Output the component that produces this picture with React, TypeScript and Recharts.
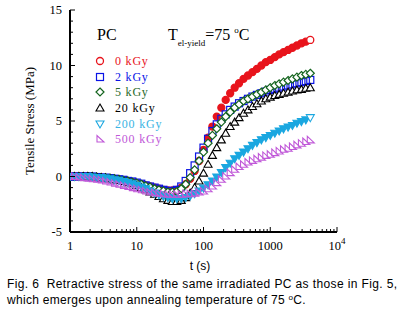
import { ComposedChart, Scatter, XAxis, YAxis } from "recharts"

// annealing time (s), log spaced as in the measurement
const times = [
  1, 1.17, 1.36, 1.58, 1.85, 2.15, 2.51, 2.93, 3.41, 3.98, 4.64, 5.41, 6.31, 7.36, 8.58,
  10, 11.7, 13.6, 15.8, 18.5, 21.5, 25.1, 29.3, 34.1, 39.8, 46.4, 54.1, 63.1, 73.6, 85.8,
  100, 117, 136, 158, 185, 215, 251, 293, 341, 398, 464, 541, 631, 736, 858,
  1000, 1170, 1360, 1580, 1850, 2150, 2510, 2930, 3410, 3980,
]

const stress0 = [
  0, 0, 0, 0, 0, -0.05, -0.1, -0.1, -0.15, -0.2, -0.25, -0.3, -0.35, -0.45, -0.5,
  -0.6, -0.7, -0.8, -0.9, -1.0, -1.1, -1.2, -1.25, -1.25, -1.2, -1.0, -0.7, -0.2, 0.5, 1.4,
  2.4, 3.5, 4.5, 5.4, 6.2, 6.9, 7.5, 8.0, 8.4, 8.8, 9.1, 9.4, 9.7, 10.0, 10.3,
  10.5, 10.75, 11.0, 11.2, 11.4, 11.6, 11.8, 12.0, 12.15, 12.3,
]
const stress2 = [
  0, 0, 0, 0, 0, 0, -0.05, -0.1, -0.1, -0.15, -0.2, -0.25, -0.3, -0.4, -0.45,
  -0.55, -0.65, -0.8, -0.9, -1.0, -1.1, -1.2, -1.3, -1.3, -1.2, -0.9, -0.4, 0.3, 1.0, 1.8,
  2.6, 3.4, 4.1, 4.7, 5.2, 5.6, 6.0, 6.3, 6.6, 6.8, 7.0, 7.2, 7.35, 7.5, 7.65,
  7.8, 7.9, 8.0, 8.1, 8.2, 8.3, 8.4, 8.5, 8.6, 8.7,
]
const stress5 = [
  0, 0, 0, 0, 0, 0, -0.05, -0.1, -0.1, -0.15, -0.2, -0.25, -0.35, -0.4, -0.5,
  -0.6, -0.7, -0.85, -0.95, -1.1, -1.2, -1.3, -1.4, -1.4, -1.35, -1.1, -0.7, -0.1, 0.6, 1.4,
  2.2, 3.0, 3.7, 4.3, 4.9, 5.4, 5.8, 6.2, 6.5, 6.8, 7.0, 7.2, 7.4, 7.6, 7.8,
  8.0, 8.2, 8.35, 8.5, 8.65, 8.8, 8.95, 9.1, 9.2, 9.3,
]
const stress20 = [
  0, 0, 0, 0, 0, 0, -0.05, -0.1, -0.15, -0.2, -0.3, -0.35, -0.45, -0.55, -0.65,
  -0.8, -1.0, -1.2, -1.4, -1.6, -1.8, -2.0, -2.15, -2.25, -2.25, -2.15, -1.9, -1.5, -1.0, -0.4,
  0.3, 1.1, 1.9, 2.6, 3.3, 3.9, 4.5, 4.9, 5.3, 5.7, 6.0, 6.3, 6.55, 6.8, 7.0,
  7.15, 7.3, 7.4, 7.5, 7.6, 7.7, 7.8, 7.85, 7.95, 8.0,
]
const stress200 = [
  0, 0, 0, 0, 0, -0.05, -0.1, -0.1, -0.15, -0.2, -0.3, -0.35, -0.45, -0.55, -0.65,
  -0.8, -0.95, -1.1, -1.3, -1.5, -1.65, -1.8, -1.9, -2.0, -2.0, -2.0, -1.9, -1.75, -1.55, -1.3,
  -1.05, -0.75, -0.4, -0.05, 0.35, 0.8, 1.2, 1.6, 1.9, 2.2, 2.5, 2.8, 3.05, 3.3, 3.5,
  3.7, 3.9, 4.1, 4.3, 4.45, 4.6, 4.8, 4.95, 5.1, 5.3,
]
const stress500 = [
  0, 0, -0.05, -0.1, -0.15, -0.2, -0.25, -0.3, -0.4, -0.5, -0.6, -0.7, -0.8, -0.9, -1.0,
  -1.1, -1.2, -1.3, -1.4, -1.45, -1.5, -1.55, -1.6, -1.6, -1.6, -1.6, -1.55, -1.55, -1.5, -1.4,
  -1.3, -1.1, -0.85, -0.55, -0.25, 0.05, 0.35, 0.65, 0.9, 1.1, 1.3, 1.45, 1.6, 1.75, 1.9,
  2.0, 2.15, 2.3, 2.45, 2.55, 2.7, 2.85, 3.0, 3.15, 3.3,
]

const doseLabels = ["0 kGy", "2 kGy", "5 kGy", "20 kGy", "200 kGy", "500 kGy"]
const xMajor = [1, 10, 100, 1000, 10000]
const yMajor = [-5, 0, 5, 10, 15]

const SERIF = '"Liberation Serif", "Times New Roman", serif'
const SANS = '"Liberation Sans", Arial, sans-serif'

const series = [
  { name: doseLabels[0], values: stress0, color: "#e8141c", text: "#e8141c", marker: "circle" },
  { name: doseLabels[1], values: stress2, color: "#0a14e6", text: "#0a14e6", marker: "square" },
  { name: doseLabels[2], values: stress5, color: "#14641e", text: "#2a6a2a", marker: "diamond" },
  { name: doseLabels[3], values: stress20, color: "#000000", text: "#000000", marker: "up" },
  { name: doseLabels[4], values: stress200, color: "#1aa7e0", text: "#3ab4e4", marker: "down" },
  { name: doseLabels[5], values: stress500, color: "#c058d8", text: "#c058d8", marker: "corner" },
]

// minor ticks for the log axis, 1..9 per decade
const xTicks: number[] = []
for (let d = 1; d < 10000; d *= 10) for (let m = 1; m < 10; m++) xTicks.push(m * d)
xTicks.push(10000)
const yTicks: number[] = []
for (let v = -5; v <= 15; v++) yTicks.push(v)

function Marker({ kind, cx, cy, color, last }: any) {
  const r = 3.5
  if (kind === "circle")
    return <circle cx={cx} cy={cy} r={r} stroke={color} strokeWidth={1.3} fill={last ? "#fff" : color} />
  if (kind === "square")
    return <rect x={cx - r} y={cy - r} width={2 * r} height={2 * r} stroke={color} strokeWidth={1.2} fill="none" />
  if (kind === "diamond")
    return <polygon points={`${cx},${cy - 4} ${cx + 4},${cy} ${cx},${cy + 4} ${cx - 4},${cy}`} stroke={color} strokeWidth={1.2} fill="#fff" />
  if (kind === "up")
    return <polygon points={`${cx},${cy - 4} ${cx + 4},${cy + 3} ${cx - 4},${cy + 3}`} stroke={color} strokeWidth={1.1} fill="#fff" />
  if (kind === "down")
    return <polygon points={`${cx - 4},${cy - 3} ${cx + 4},${cy - 3} ${cx},${cy + 4}`} stroke={color} strokeWidth={1.1} fill={last ? "#fff" : color} />
  return <polygon points={`${cx - 3},${cy - 3.5} ${cx - 3},${cy + 3} ${cx + 4},${cy + 3}`} stroke={color} strokeWidth={1.1} fill="none" />
}

function BottomTick({ x, y, payload }: any) {
  const v = payload.value
  const major = xMajor.includes(v)
  return (
    <g>
      <line x1={x} x2={x} y1={y} y2={y - (major ? 5 : 3)} stroke="#000" />
      {major && (
        <text x={x} y={y + 18} textAnchor="middle" fontFamily={SERIF} fontSize={12.5} fill="#000">
          {v === 10000 ? (
            <>
              10<tspan dy={-6} fontSize={9}>4</tspan>
            </>
          ) : (
            String(v)
          )}
        </text>
      )}
    </g>
  )
}

function TopTick({ x, y, payload }: any) {
  const major = xMajor.includes(payload.value)
  return <line x1={x} x2={x} y1={y} y2={y + (major ? 5 : 3)} stroke="#000" />
}

function LeftTick({ x, y, payload }: any) {
  const v = payload.value
  const major = yMajor.includes(v)
  return (
    <g>
      <line x1={x} x2={x + (major ? 5 : 3)} y1={y} y2={y} stroke="#000" />
      {major && (
        <text x={x - 8} y={y + 4} textAnchor="end" fontFamily={SERIF} fontSize={12.5} fill="#000">
          {v}
        </text>
      )}
    </g>
  )
}

function RightTick({ x, y, payload }: any) {
  const major = yMajor.includes(payload.value)
  return <line x1={x} x2={x - (major ? 5 : 3)} y1={y} y2={y} stroke="#000" strokeWidth={major ? 2 : 1} />
}

const legendY = [61, 77, 92, 108, 124, 139]

export default function App() {
  return (
    <div style={{ position: "absolute", left: 0, top: 0, width: 403, height: 317, background: "#fff" }}>
      <ComposedChart width={403} height={317} margin={{ top: 10, right: 66, bottom: 55, left: 0 }}>
        <XAxis
          dataKey="t"
          type="number"
          scale="log"
          domain={[1, 10000]}
          allowDataOverflow
          ticks={xTicks}
          interval={0}
          tick={<BottomTick />}
          tickSize={0}
          tickMargin={0}
          tickLine={false}
          axisLine={{ stroke: "#000", strokeWidth: 2 }}
          height={30}
        />
        <XAxis
          xAxisId="top"
          orientation="top"
          dataKey="t"
          type="number"
          scale="log"
          domain={[1, 10000]}
          allowDataOverflow
          ticks={xTicks}
          interval={0}
          tick={<TopTick />}
          tickSize={0}
          tickMargin={0}
          tickLine={false}
          axisLine={{ stroke: "#000", strokeWidth: 1.3 }}
          height={0}
        />
        <YAxis
          dataKey="v"
          type="number"
          domain={[-5, 15]}
          allowDataOverflow
          ticks={yTicks}
          interval={0}
          tick={<LeftTick />}
          tickSize={0}
          tickMargin={0}
          tickLine={false}
          axisLine={{ stroke: "#000", strokeWidth: 2 }}
          width={70}
        />
        <YAxis
          yAxisId="right"
          orientation="right"
          type="number"
          domain={[-5, 15]}
          allowDataOverflow
          ticks={yTicks}
          interval={0}
          tick={<RightTick />}
          tickSize={0}
          tickMargin={0}
          tickLine={false}
          axisLine={{ stroke: "#000", strokeWidth: 1.3 }}
          width={0}
        />
        {series.map((s) => (
          <Scatter
            key={s.name}
            name={s.name}
            data={times.map((t, i) => ({ t, v: s.values[i], last: i === times.length - 1 }))}
            dataKey="v"
            isAnimationActive={false}
            shape={(p: any) => (
              <Marker kind={s.marker} cx={p.cx} cy={p.cy} color={s.color} last={p.payload?.last} />
            )}
          />
        ))}
      </ComposedChart>

      <svg width={403} height={317} style={{ position: "absolute", left: 0, top: 0, pointerEvents: "none" }}>
        <text x={97} y={40} fontFamily={SERIF} fontSize={16} fill="#000">PC</text>
        <text x={168} y={40} fontFamily={SERIF} fontSize={16} fill="#000">
          T<tspan fontSize={9} dy={6}>el-yield</tspan>
          <tspan fontSize={16} dy={-6}>=75 </tspan>
          <tspan fontSize={9} dy={-7}>o</tspan>
          <tspan fontSize={16} dy={7}>C</tspan>
        </text>
        {series.map((s, i) => (
          <g key={s.name}>
            <Marker kind={s.marker} cx={100} cy={legendY[i]} color={s.color} last />
            <text x={115} y={legendY[i] + 4} fontFamily={SERIF} fontSize={12} letterSpacing={0.8} fill={s.text}>
              {s.name}
            </text>
          </g>
        ))}
        <text
          x={34}
          y={121}
          transform="rotate(-90 34 121)"
          textAnchor="middle"
          fontFamily={SERIF}
          fontSize={13}
          fill="#000"
        >
          Tensile Stress (MPa)
        </text>
        <text x={200} y={270} textAnchor="middle" fontFamily={SANS} fontSize={12} fill="#000">t (s)</text>
        <text x={7} y={288} fontFamily={SANS} fontSize={12} letterSpacing={0.38} fill="#000" style={{ whiteSpace: "pre" }}>
          Fig. 6  Retractive stress of the same irradiated PC as those in Fig. 5,
        </text>
        <text x={7} y={304} fontFamily={SANS} fontSize={12} letterSpacing={0.3} fill="#000">
          which emerges upon annealing temperature of 75 <tspan fontSize={8} dy={-4}>o</tspan>
          <tspan fontSize={12} dy={4}>C.</tspan>
        </text>
      </svg>
    </div>
  )
}
